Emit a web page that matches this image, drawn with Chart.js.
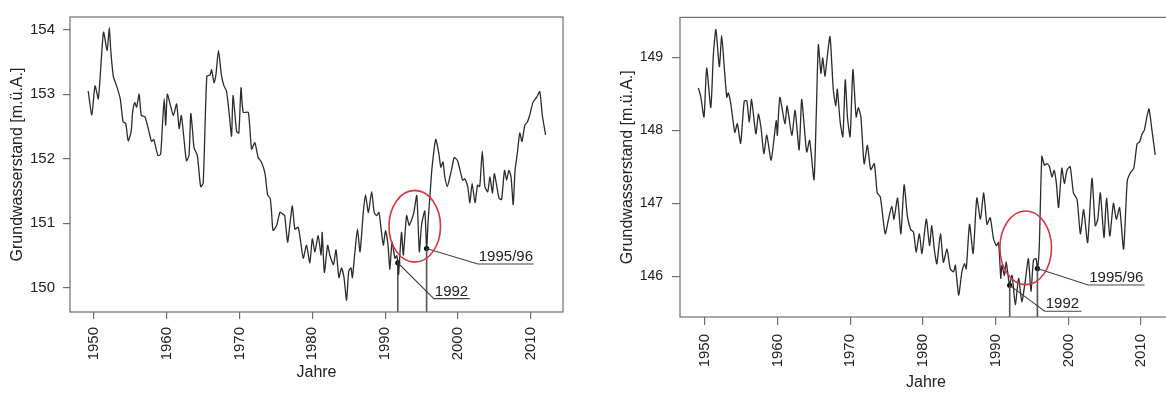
<!DOCTYPE html>
<html><head><meta charset="utf-8">
<script src="https://cdn.jsdelivr.net/npm/chart.js@4.4.1/dist/chart.umd.min.js"></script>
<style>
html,body{margin:0;padding:0;background:#fff;overflow:hidden;width:1166px;height:396px;}
#c1{position:absolute;left:0;top:0;}
#c2{position:absolute;left:580px;top:0;}
</style></head><body>
<canvas id="c1" width="580" height="396"></canvas>
<canvas id="c2" width="600" height="396"></canvas>
<script>
// ---------- data ----------
const xTicks = [1950, 1960, 1970, 1980, 1990, 2000, 2010];
const leftYTicks = [150, 151, 152, 153, 154];
const rightYTicks = [146, 147, 148, 149];

const leftYears = [1949.2,1949.7,1950.14,1950.6,1951.3,1951.8,1952.1,1952.3,1952.65,1953.1,1953.6,1954.0,1954.35,1954.7,1955.1,1955.3,1955.6,1955.85,1956.2,1956.5,1957.0,1957.45,1957.9,1958.2,1958.5,1958.8,1959.15,1959.4,1959.65,1959.85,1960.07,1960.45,1960.9,1961.35,1961.7,1962.0,1962.35,1962.7,1963.05,1963.3,1963.55,1963.75,1964.2,1964.65,1965.0,1965.5,1965.95,1966.15,1966.5,1966.75,1967.1,1967.5,1967.85,1968.2,1968.6,1968.9,1969.1,1969.6,1969.9,1970.2,1970.5,1971.2,1971.65,1972.1,1972.55,1973.0,1973.5,1973.85,1974.2,1974.4,1974.6,1975.1,1975.55,1976.0,1976.2,1976.6,1976.9,1977.25,1977.6,1978.05,1978.4,1978.75,1979.2,1979.65,1980.0,1980.35,1980.8,1981.2,1981.35,1981.65,1982.1,1982.4,1982.9,1983.25,1983.65,1984.0,1984.35,1984.7,1985.0,1985.3,1985.5,1985.85,1986.2,1986.55,1987.0,1987.3,1987.7,1988.15,1988.5,1988.85,1989.15,1989.45,1989.75,1990.05,1990.4,1990.65,1990.95,1991.35,1991.6,1991.74,1991.85,1992.25,1992.5,1992.95,1993.3,1993.65,1993.95,1994.35,1994.7,1995.0,1995.45,1995.7,1995.9,1996.25,1996.45,1996.95,1997.4,1997.65,1997.95,1998.2,1998.55,1998.9,1999.2,1999.5,1999.95,2000.3,2000.65,2000.95,2001.35,2001.65,2001.95,2002.35,2002.7,2003.0,2003.35,2003.7,2004.1,2004.4,2004.75,2005.0,2005.35,2005.65,2006.0,2006.4,2006.7,2007.0,2007.3,2007.6,2007.85,2008.2,2008.5,2008.8,2009.2,2009.55,2009.85,2010.3,2010.8,2011.25,2011.6,2012.05];
const leftLevels = [153.05,152.68,153.13,152.93,153.96,153.68,154.03,153.68,153.28,153.13,152.93,152.57,152.55,152.28,152.42,152.72,152.87,152.80,153.0,152.67,152.65,152.47,152.27,152.30,152.17,152.05,152.07,152.52,152.93,152.52,153.0,152.85,152.67,152.85,152.47,152.67,152.32,151.97,152.05,152.70,152.42,152.17,152.05,151.57,151.62,153.28,153.30,153.38,153.18,153.30,153.68,153.30,153.13,153.05,152.67,152.35,152.98,152.42,152.40,153.10,152.72,152.72,152.15,152.25,152.02,151.95,151.77,151.44,151.39,151.17,150.89,150.97,151.17,151.14,151.12,150.71,150.97,151.27,150.91,150.94,150.71,150.46,150.66,150.39,150.76,150.56,150.81,150.51,150.86,150.24,150.66,150.51,150.36,150.59,150.16,150.31,150.16,149.81,150.26,150.31,150.16,150.56,150.91,150.56,151.17,151.44,151.17,151.49,151.17,151.12,151.17,150.91,150.66,150.89,150.66,150.29,150.71,150.46,150.50,150.39,150.21,150.86,150.51,151.12,150.97,151.06,151.17,151.43,150.56,150.97,151.19,150.61,151.02,151.57,151.87,152.30,152.07,151.87,151.95,151.72,151.57,151.72,151.87,152.02,151.97,151.82,151.67,151.69,151.57,151.32,151.62,151.32,151.59,151.57,152.12,151.57,151.49,151.72,151.47,151.77,151.57,151.39,151.37,151.82,151.67,151.82,151.72,151.29,151.82,152.12,152.40,152.27,152.52,152.57,152.67,152.87,152.95,153.04,152.67,152.37];

const rightYears = [1949.08,1949.4,1949.86,1950.23,1950.8,1951.15,1951.5,1951.97,1952.3,1952.66,1953.0,1953.2,1953.55,1954.1,1954.45,1954.9,1955.4,1955.75,1956.1,1956.4,1957.0,1957.35,1957.7,1958.1,1958.5,1959.1,1959.8,1959.95,1960.3,1961.0,1961.3,1961.95,1962.4,1962.95,1963.3,1963.7,1964.0,1964.4,1965.0,1965.3,1965.6,1965.95,1966.2,1966.5,1966.75,1967.2,1967.65,1968.0,1968.2,1968.6,1968.97,1969.3,1969.6,1969.97,1970.35,1970.8,1971.1,1971.45,1971.9,1972.35,1972.8,1973.3,1973.7,1974.1,1974.3,1974.8,1975.25,1975.7,1976.0,1976.5,1976.95,1977.4,1977.85,1978.3,1978.7,1979.05,1979.5,1979.85,1980.45,1980.9,1981.2,1981.55,1981.9,1982.4,1982.8,1983.3,1983.75,1984.2,1984.45,1984.9,1985.35,1985.7,1985.95,1986.4,1986.9,1987.4,1987.9,1988.35,1988.8,1989.25,1989.7,1990.1,1990.4,1990.7,1990.85,1991.2,1991.45,1991.9,1992.25,1992.7,1993.15,1993.6,1994.05,1994.5,1994.85,1995.2,1995.55,1995.75,1996.0,1996.35,1996.7,1997.05,1997.4,1997.75,1998.05,1998.35,1998.65,1999.1,1999.45,1999.8,2000.25,2000.7,2001.2,2001.65,2002.1,2002.65,2003.25,2003.7,2004.05,2004.4,2004.9,2005.25,2005.7,2006.2,2006.6,2007.05,2007.6,2008.1,2008.5,2009.0,2009.45,2009.8,2010.15,2010.45,2010.8,2011.1,2011.5,2011.95];
const rightLevels = [148.58,148.47,148.18,148.85,148.31,149.03,149.38,148.87,149.29,148.85,148.45,148.51,148.36,147.97,148.09,147.82,148.40,148.40,148.11,148.42,147.95,148.22,148.04,147.68,147.93,147.59,148.13,147.93,148.45,148.09,148.33,147.93,148.27,147.73,148.42,148.0,147.70,147.86,147.32,148.18,149.17,148.78,148.99,148.74,148.94,149.28,148.56,148.33,148.56,148.11,147.91,148.69,148.18,147.91,148.83,148.18,148.31,148.18,147.54,147.79,147.46,147.54,147.14,147.09,146.96,146.58,146.78,146.96,146.78,147.07,146.58,147.25,146.82,146.64,146.60,146.33,146.58,146.31,146.78,146.42,146.69,146.37,146.17,146.58,146.19,146.37,146.10,146.06,146.15,145.74,146.06,146.17,146.10,146.71,146.31,147.07,146.78,147.14,146.71,146.80,146.51,146.42,146.46,145.97,146.15,146.01,146.19,145.88,146.01,145.61,145.97,145.65,145.92,146.24,145.79,146.22,146.24,146.10,146.42,147.64,147.52,147.54,147.50,147.36,147.45,147.27,146.94,147.48,147.27,147.45,147.50,147.14,147.05,146.58,146.91,146.46,147.34,146.69,146.78,147.14,146.53,147.07,146.55,147.0,146.78,146.94,146.37,147.30,147.41,147.48,147.81,147.84,147.95,148.0,148.18,148.29,148.0,147.66];

// marked events (year, level at marker) and leader line bends
const eventLabels = ['1992', '1995/96'];
const leftEventYears = [1991.74, 1995.7];
const leftEventLevels = [150.39, 150.61];
const leftLeaderBendX = [1996.69, 2002.73];
const leftLeaderBendY = [149.834, 150.371];
const leftLeaderEndX = [2001.63, 2010.43];
const rightEventYears = [1991.93, 1995.74];
const rightEventLevels = [145.874, 146.104];
const rightLeaderBendX = [1996.75, 2002.73];
const rightLeaderBendY = [145.518, 145.878];
const rightLeaderEndX = [2001.8, 2010.49];
// highlighted period (ellipse centre and half-axes in data units)
const leftHighlight = [1994.07, 150.955, 3.54, 0.555];
const rightHighlight = [1994.13, 146.388, 3.55, 0.505];

// ---------- chart ----------
const FONT = '"Liberation Sans", Arial, Helvetica, sans-serif';
Chart.defaults.font.family = FONT;
Chart.defaults.color = '#222';

function pts(xs, ys) { return xs.map((x, i) => ({x: x, y: ys[i]})); }

function decorPlugin(hl, ev) {
  return {
    id: 'decor',
    afterDatasetsDraw(chart) {
      const {ctx, chartArea: a, scales: {x, y}} = chart;
      ctx.save();
      ctx.strokeStyle = '#6e6e6e';
      ctx.lineWidth = 1.2;
      ctx.strokeRect(a.left, a.top, a.right - a.left, a.bottom - a.top);
      const cx = x.getPixelForValue(hl[0]), cy = y.getPixelForValue(hl[1]);
      const rx = Math.abs(x.getPixelForValue(hl[0] + hl[2]) - cx);
      const ry = Math.abs(y.getPixelForValue(hl[1] + hl[3]) - cy);
      ctx.beginPath();
      ctx.ellipse(cx, cy, rx, ry, 0, 0, Math.PI * 2);
      ctx.strokeStyle = '#d9343d';
      ctx.lineWidth = 1.6;
      ctx.stroke();
      ctx.fillStyle = '#222';
      ctx.font = '15px ' + FONT;
      ctx.textAlign = 'left';
      ctx.textBaseline = 'alphabetic';
      eventLabels.forEach((t, i) => {
        ctx.fillText(t, x.getPixelForValue(ev.bx[i]) + 1, y.getPixelForValue(ev.by[i]) - 3);
      });
      ctx.restore();
    }
  };
}

function makeChart(id, cfg) {
  const ds = [{
    data: pts(cfg.years, cfg.levels),
    borderColor: '#2b2b2b', borderWidth: 1.3, pointRadius: 0, tension: 0.2, fill: false
  }];
  cfg.ev.years.forEach((yr, i) => {
    ds.push({
      data: [{x: yr, y: cfg.yMin}, {x: yr, y: cfg.ev.levels[i]}],
      borderColor: '#555', borderWidth: 1.6, pointRadius: 0, fill: false
    });
    ds.push({
      data: [{x: yr, y: cfg.ev.levels[i]}, {x: cfg.ev.bx[i], y: cfg.ev.by[i]}, {x: cfg.ev.ex[i], y: cfg.ev.by[i]}],
      borderColor: '#444', borderWidth: 1.1, pointRadius: 0, fill: false
    });
  });
  ds.push({
    data: pts(cfg.ev.years, cfg.ev.levels),
    showLine: false, pointRadius: 2.6, pointBackgroundColor: '#000', pointBorderWidth: 0
  });

  return new Chart(document.getElementById(id), {
    type: 'line',
    data: {datasets: ds},
    plugins: [decorPlugin(cfg.hl, cfg.ev)],
    options: {
      responsive: false, animation: false, devicePixelRatio: 1,
      layout: {padding: cfg.padding},
      plugins: {legend: {display: false}, tooltip: {enabled: false}},
      scales: {
        x: {
          type: 'linear', min: cfg.xMin, max: cfg.xMax,
          afterBuildTicks: s => { s.ticks = xTicks.map(v => ({value: v})); },
          afterFit: s => { s.height = cfg.xAxisH; },
          grid: {display: true, drawOnChartArea: false, tickLength: cfg.tl, color: '#6e6e6e', lineWidth: 1.2},
          border: {display: false},
          ticks: {minRotation: 90, maxRotation: 90, autoSkip: false, padding: cfg.xPad,
                  font: {size: 15}, color: '#222', callback: v => String(v)},
          title: {display: true, text: 'Jahre', font: {size: 16}, color: '#222',
                  padding: {top: 0, bottom: cfg.xTitlePad}}
        },
        y: {
          type: 'linear', min: cfg.yMin, max: cfg.yMax,
          afterBuildTicks: s => { s.ticks = cfg.yTicks.map(v => ({value: v})); },
          afterFit: s => { s.width = cfg.yAxisW; },
          grid: {display: true, drawOnChartArea: false, tickLength: cfg.tl, color: '#6e6e6e', lineWidth: 1.2},
          border: {display: false},
          ticks: {padding: cfg.yPad, font: {size: cfg.yFont}, color: '#222', callback: v => String(v)},
          title: {display: true, text: 'Grundwasserstand [m.ü.A.]', font: {size: 16}, color: '#222',
                  padding: {top: cfg.yTitlePad, bottom: 0}}
        }
      }
    }
  });
}

makeChart('c1', {
  years: leftYears, levels: leftLevels,
  ev: {years: leftEventYears, levels: leftEventLevels, bx: leftLeaderBendX, by: leftLeaderBendY, ex: leftLeaderEndX},
  hl: leftHighlight,
  xMin: 1946.70, xMax: 2014.44, yMin: 149.627, yMax: 154.196, yTicks: leftYTicks,
  padding: {top: 9, right: 17, left: 0, bottom: 0},
  xAxisH: 84, yAxisW: 70, tl: 7, xPad: 8, yPad: 8, yFont: 15,
  xTitlePad: 13.4, yTitlePad: 8.4
});

makeChart('c2', {
  years: rightYears, levels: rightLevels,
  ev: {years: rightEventYears, levels: rightEventLevels, bx: rightLeaderBendX, by: rightLeaderBendY, ex: rightLeaderEndX},
  hl: rightHighlight,
  xMin: 1946.56, xMax: 2014.26, yMin: 145.44, yMax: 149.545, yTicks: rightYTicks,
  padding: {top: 14, right: 8, left: 0, bottom: 0},
  xAxisH: 79, yAxisW: 100, tl: 8, xPad: 9, yPad: 9, yFont: 14,
  xTitlePad: 3.4, yTitlePad: 38.4
});
</script>
</body></html>
